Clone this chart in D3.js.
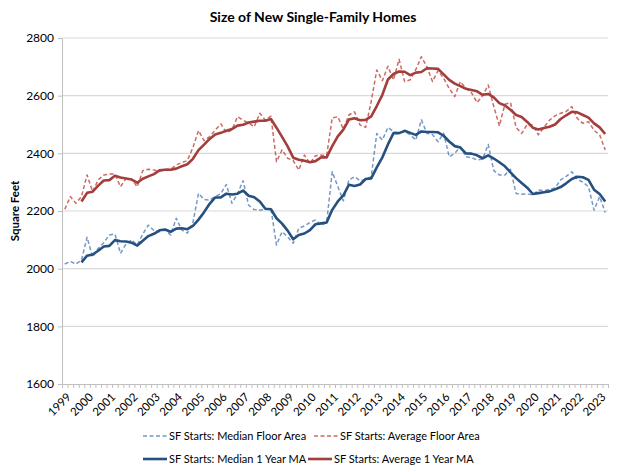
<!DOCTYPE html>
<html>
<head>
<meta charset="utf-8">
<script src="https://cdn.jsdelivr.net/npm/d3@7/dist/d3.min.js"></script>
<style>
  body { margin: 0; background: #fff; }
  svg text { font-family: Lato, "Open Sans", sans-serif; fill: #000; }
</style>
</head>
<body>
<div id="chart"></div>
<script>
// quarterly, 1999 Q1 .. 2023 Q2
const years = ["1999","2000","2001","2002","2003","2004","2005","2006","2007","2008","2009","2010","2011",
               "2012","2013","2014","2015","2016","2017","2018","2019","2020","2021","2022","2023"];
const quarters = years.flatMap(y => ["Q1","Q2","Q3","Q4"].map(q => y + " " + q)).slice(0, 98);

const medianArea = [2016,2025,2016,2030,2109,2040,2070,2090,2117,2120,2053,2086,2100,2082,2120,2151,
  2132,2128,2134,2117,2175,2134,2123,2160,2261,2240,2238,2250,2260,2292,2227,2260,2305,2220,2205,2203,
  2205,2209,2082,2128,2110,2088,2140,2148,2160,2169,2150,2160,2336,2285,2235,2308,2319,2305,2310,2319,
  2469,2446,2490,2475,2470,2475,2465,2446,2516,2470,2465,2440,2470,2388,2400,2423,2388,2385,2377,2380,
  2431,2340,2325,2325,2345,2261,2258,2260,2255,2273,2270,2275,2280,2308,2320,2336,2310,2300,2284,2203,
  2250,2195];

const averageArea = [2206,2250,2227,2250,2325,2267,2308,2325,2328,2328,2284,2313,2310,2284,2340,2345,
  2342,2338,2345,2345,2360,2368,2375,2420,2479,2444,2458,2480,2502,2472,2481,2527,2515,2505,2492,2539,
  2515,2529,2371,2412,2383,2375,2342,2394,2365,2392,2394,2392,2523,2527,2484,2533,2544,2498,2490,2580,
  2689,2652,2702,2655,2726,2649,2655,2690,2735,2700,2649,2687,2660,2625,2597,2649,2625,2610,2576,2600,
  2637,2562,2495,2570,2576,2490,2469,2500,2498,2464,2490,2515,2530,2539,2545,2562,2521,2504,2510,2480,
  2464,2412];

const medianMA = [null,null,null,2022,2045,2049,2062,2077,2079,2099,2095,2094,2090,2080,2097,2113,
  2121,2133,2136,2128,2139,2140,2137,2148,2170,2196,2225,2247,2247,2260,2257,2260,2271,2253,2248,2233,
  2208,2206,2175,2156,2132,2102,2117,2122,2134,2154,2157,2160,2204,2233,2254,2291,2287,2292,2311,2313,
  2351,2386,2431,2470,2470,2478,2471,2464,2476,2474,2474,2473,2461,2441,2425,2420,2400,2399,2393,2383,
  2393,2382,2369,2355,2334,2314,2297,2281,2259,2262,2265,2268,2275,2283,2296,2311,2319,2317,2308,2274,
  2259,2233];

const averageMA = [null,null,null,2233,2263,2267,2288,2306,2307,2322,2316,2313,2309,2298,2312,2320,
  2328,2341,2343,2343,2347,2355,2362,2381,2411,2430,2450,2465,2471,2478,2484,2496,2499,2507,2510,2513,
  2513,2519,2489,2457,2424,2385,2378,2374,2369,2373,2386,2386,2425,2459,2482,2517,2522,2515,2516,2528,
  2564,2603,2656,2675,2684,2683,2671,2680,2682,2695,2694,2693,2674,2655,2642,2633,2624,2620,2615,2603,
  2606,2594,2574,2566,2551,2533,2526,2509,2489,2483,2488,2492,2500,2519,2532,2544,2542,2533,2524,2504,
  2490,2467];

const yTicks = [1600,1800,2000,2200,2400,2600,2800];

const seriesNames = ["SF Starts: Median Floor Area","SF Starts: Average Floor Area",
                     "SF Starts: Median 1 Year MA","SF Starts: Average 1 Year MA"];
const seriesData = [medianArea, averageArea, medianMA, averageMA];
const seriesColors = ["#7399c4","#cc6a66","#25507f","#a23e3b"];
const seriesDash = ["4,2.5","4,2.5",null,null];
const seriesWidth = [1.5,1.5,2.6,2.6];

const width = 624, height = 472;
const plot = {left: 62, right: 608, top: 38, bottom: 384};

const svg = d3.select("#chart").append("svg")
  .attr("width", width).attr("height", height);

const x = d3.scaleLinear().domain([0, quarters.length]).range([plot.left, plot.right]);
const y = d3.scaleLinear().domain([1600, 2800]).range([plot.bottom, plot.top]);

// gridlines
svg.append("g")
  .selectAll("line")
  .data(yTicks.slice(1))
  .enter().append("line")
  .attr("x1", plot.left).attr("x2", plot.right)
  .attr("y1", d => y(d)).attr("y2", d => y(d))
  .attr("stroke", "#d9d9d9").attr("stroke-width", 1.2);

// y axis
const yAxis = svg.append("g")
  .attr("transform", `translate(${plot.left},0)`)
  .call(d3.axisLeft(y).tickValues(yTicks).tickSize(4).tickSizeOuter(0).tickFormat(d3.format("d")));
yAxis.select(".domain").attr("stroke", "#bfbfbf");
yAxis.selectAll(".tick line").attr("stroke", "#bfbfbf");
yAxis.selectAll(".tick text").attr("x", -8).style("font-size", "12px").style("font-family", "Lato");

// x axis: a small tick between every quarter
const xAxis = svg.append("g")
  .attr("transform", `translate(0,${plot.bottom})`)
  .call(d3.axisBottom(x).tickValues(d3.range(0, quarters.length + 1)).tickSize(4).tickSizeOuter(0).tickFormat(""));
xAxis.select(".domain").attr("stroke", "#bfbfbf");
xAxis.selectAll(".tick line").attr("stroke", "#bfbfbf");

// year labels at each Q1
svg.append("g")
  .selectAll("text")
  .data(years)
  .enter().append("text")
  .attr("transform", (d, i) => `translate(${x(i * 4 + 0.5) + 4},${plot.bottom + 11}) rotate(-45)`)
  .attr("text-anchor", "end")
  .attr("dy", "0.35em")
  .style("font-size", "11.5px")
  .text(d => d);

// y axis title
svg.append("text")
  .attr("transform", `translate(19,${(plot.top + plot.bottom) / 2}) rotate(-90)`)
  .attr("text-anchor", "middle")
  .style("font-size", "11.5px")
  .style("font-weight", "bold")
  .text("Square Feet");

// title
svg.append("text")
  .attr("x", 313).attr("y", 22)
  .attr("text-anchor", "middle")
  .style("font-size", "14px")
  .style("font-weight", "bold")
  .text("Size of New Single-Family Homes");

// lines
const line = d3.line()
  .defined(d => d != null)
  .x((d, i) => x(i + 0.5))
  .y(d => y(d));

svg.append("g")
  .selectAll("path")
  .data(seriesData)
  .enter().append("path")
  .attr("d", d => line(d))
  .attr("fill", "none")
  .attr("stroke", (d, i) => seriesColors[i])
  .attr("stroke-width", (d, i) => seriesWidth[i])
  .attr("stroke-dasharray", (d, i) => seriesDash[i])
  .attr("stroke-linejoin", "round");

// legend
const legendPos = [[143, 436], [314, 436], [143, 459], [308, 459]];
const legend = svg.append("g")
  .selectAll("g")
  .data(seriesNames)
  .enter().append("g")
  .attr("transform", (d, i) => `translate(${legendPos[i][0]},${legendPos[i][1]})`);

legend.append("line")
  .attr("x1", 0).attr("x2", 24)
  .attr("stroke", (d, i) => seriesColors[i])
  .attr("stroke-width", (d, i) => seriesWidth[i])
  .attr("stroke-dasharray", (d, i) => seriesDash[i]);

legend.append("text")
  .attr("x", 26)
  .attr("dy", "0.35em")
  .style("font-size", "11px")
  .text(d => d);
</script>
</body>
</html>
